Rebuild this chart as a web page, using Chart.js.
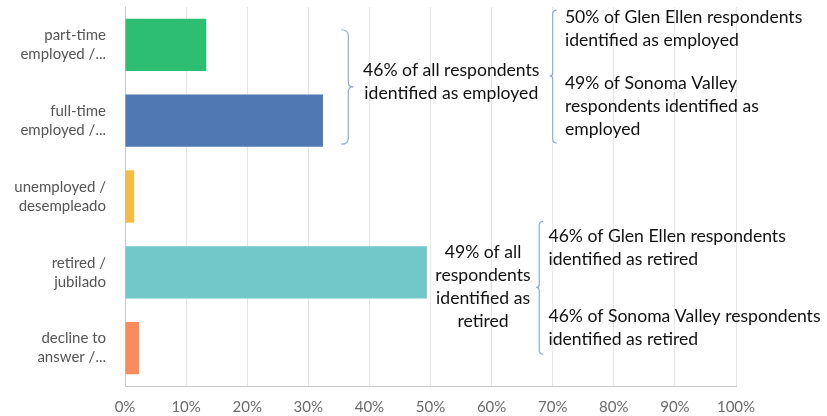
<!DOCTYPE html>
<html>
<head>
<meta charset="utf-8">
<script src="https://cdn.jsdelivr.net/npm/chart.js@4"></script>
<style>
  html, body { margin: 0; padding: 0; background: #fff; }
</style>
</head>
<body>
<canvas id="chart" width="827" height="416"></canvas>
<script>
const categories = [
    ['part-time', 'employed /...'],
    ['full-time', 'employed /...'],
    ['unemployed /', 'desempleado'],
    ['retired /', 'jubilado'],
    ['decline to', 'answer /...']
];
const shares = [13.3, 32.4, 1.5, 49.4, 2.3];
const barColors = ['#2dbe72', '#5079b3', '#f6bb43', '#72c7c9', '#f98b5d'];
const xTicks = [0, 10, 20, 30, 40, 50, 60, 70, 80, 90, 100];

// callout texts
const employedAll = ['46% of all respondents', 'identified as employed'];
const employedSplit = [
    ['50% of Glen Ellen respondents', 'identified as employed'],
    ['49% of Sonoma Valley', 'respondents identified as', 'employed']
];
const retiredAll = ['49% of all', 'respondents', 'identified as', 'retired'];
const retiredSplit = [
    ['46% of Glen Ellen respondents', 'identified as retired'],
    ['46% of Sonoma Valley respondents', 'identified as retired']
];

const noteFont = '17.6px Lato, "Open Sans", sans-serif';
const braceColor = '#8eaad9';

function drawLines(ctx, lines, x, y, lh, align) {
    ctx.textAlign = align;
    lines.forEach((l, i) => ctx.fillText(l, x, y + i * lh));
}

// right-pointing curly brace (opens to the left)
function braceRight(ctx, x, top, bottom, tipY) {
    const w = 7;
    ctx.beginPath();
    ctx.moveTo(x, top);
    ctx.quadraticCurveTo(x + w, top, x + w, top + 6);
    ctx.lineTo(x + w, tipY - 5);
    ctx.quadraticCurveTo(x + w, tipY, x + w + 5, tipY);
    ctx.quadraticCurveTo(x + w, tipY, x + w, tipY + 5);
    ctx.lineTo(x + w, bottom - 6);
    ctx.quadraticCurveTo(x + w, bottom, x, bottom);
    ctx.stroke();
}

// left-pointing bracket (opens to the right)
function braceLeft(ctx, x, top, bottom, tipY) {
    const w = 4;
    ctx.beginPath();
    ctx.moveTo(x + w, top);
    ctx.quadraticCurveTo(x, top, x, top + 4);
    ctx.lineTo(x, tipY - 3);
    ctx.quadraticCurveTo(x, tipY, x - 3, tipY);
    ctx.quadraticCurveTo(x, tipY, x, tipY + 3);
    ctx.lineTo(x, bottom - 4);
    ctx.quadraticCurveTo(x, bottom, x + w, bottom);
    ctx.stroke();
}

const calloutPlugin = {
    id: 'callouts',
    afterDraw(chart) {
        const ctx = chart.ctx;
        const xs = chart.scales.x;
        const ys = chart.scales.y;
        const px = v => xs.getPixelForValue(v);
        const row = i => ys.getPixelForValue(i);
        const band = row(1) - row(0);

        ctx.save();
        ctx.strokeStyle = braceColor;
        ctx.lineWidth = 1.2;
        ctx.fillStyle = '#111';
        ctx.font = noteFont;
        ctx.textBaseline = 'middle';

        // employed group (rows 0-1)
        const eMid = row(0) + band * 0.555;
        braceRight(ctx, px(35.4), row(0) - band * 0.2, row(1) + band * 0.31, eMid);
        drawLines(ctx, employedAll, px(53.4), eMid - 17, 23, 'center');

        braceLeft(ctx, px(70), row(0) - band * 0.46, row(1) + band * 0.295, eMid - 11);
        drawLines(ctx, employedSplit[0], px(72), row(0) - 28, 23, 'left');
        drawLines(ctx, employedSplit[1], px(72), row(0) + 38, 23, 'left');

        // retired group (row 3)
        const r = row(3);
        drawLines(ctx, retiredAll, px(58.6), r - 20, 23, 'center');
        braceLeft(ctx, px(67.8), r - 51, r + 82, r + 15);
        drawLines(ctx, retiredSplit[0], px(69.3), r - 36, 23, 'left');
        drawLines(ctx, retiredSplit[1], px(69.3), r + 44, 23, 'left');
        ctx.restore();
    }
};

new Chart(document.getElementById('chart'), {
    type: 'bar',
    data: {
        labels: categories,
        datasets: [{
            data: shares,
            backgroundColor: barColors,
            borderWidth: 0,
            categoryPercentage: 1,
            barPercentage: 0.69
        }]
    },
    options: {
        indexAxis: 'y',
        responsive: false,
        animation: false,
        layout: { padding: { top: 7, right: 91, left: 0, bottom: 0 } },
        plugins: {
            legend: { display: false },
            tooltip: { enabled: false }
        },
        scales: {
            x: {
                min: 0,
                max: 100,
                afterBuildTicks: s => { s.ticks = xTicks.map(v => ({ value: v })); },
                afterFit: s => {
                    s.height = 30;
                    s.paddingLeft = s.paddingRight = 0;
                },
                grid: { color: '#e6e6e6', drawTicks: false },
                border: { color: '#c8c8c8' },
                ticks: {
                    padding: 12,
                    color: '#6b6b6b',
                    font: { family: 'Lato, "Open Sans", sans-serif', size: 15 },
                    callback: v => v + '%'
                }
            },
            y: {
                afterFit: s => {
                    s.width = 125;
                    s.paddingTop = s.paddingBottom = 0;   // keep long labels from shrinking the plot
                },
                grid: { display: false, drawTicks: false },
                border: { color: '#c8c8c8' },
                ticks: {
                    padding: 19,
                    color: '#555',
                    font: { family: 'Lato, "Open Sans", sans-serif', size: 15, lineHeight: 1.27 }
                }
            }
        }
    },
    plugins: [calloutPlugin]
});
</script>
</body>
</html>
